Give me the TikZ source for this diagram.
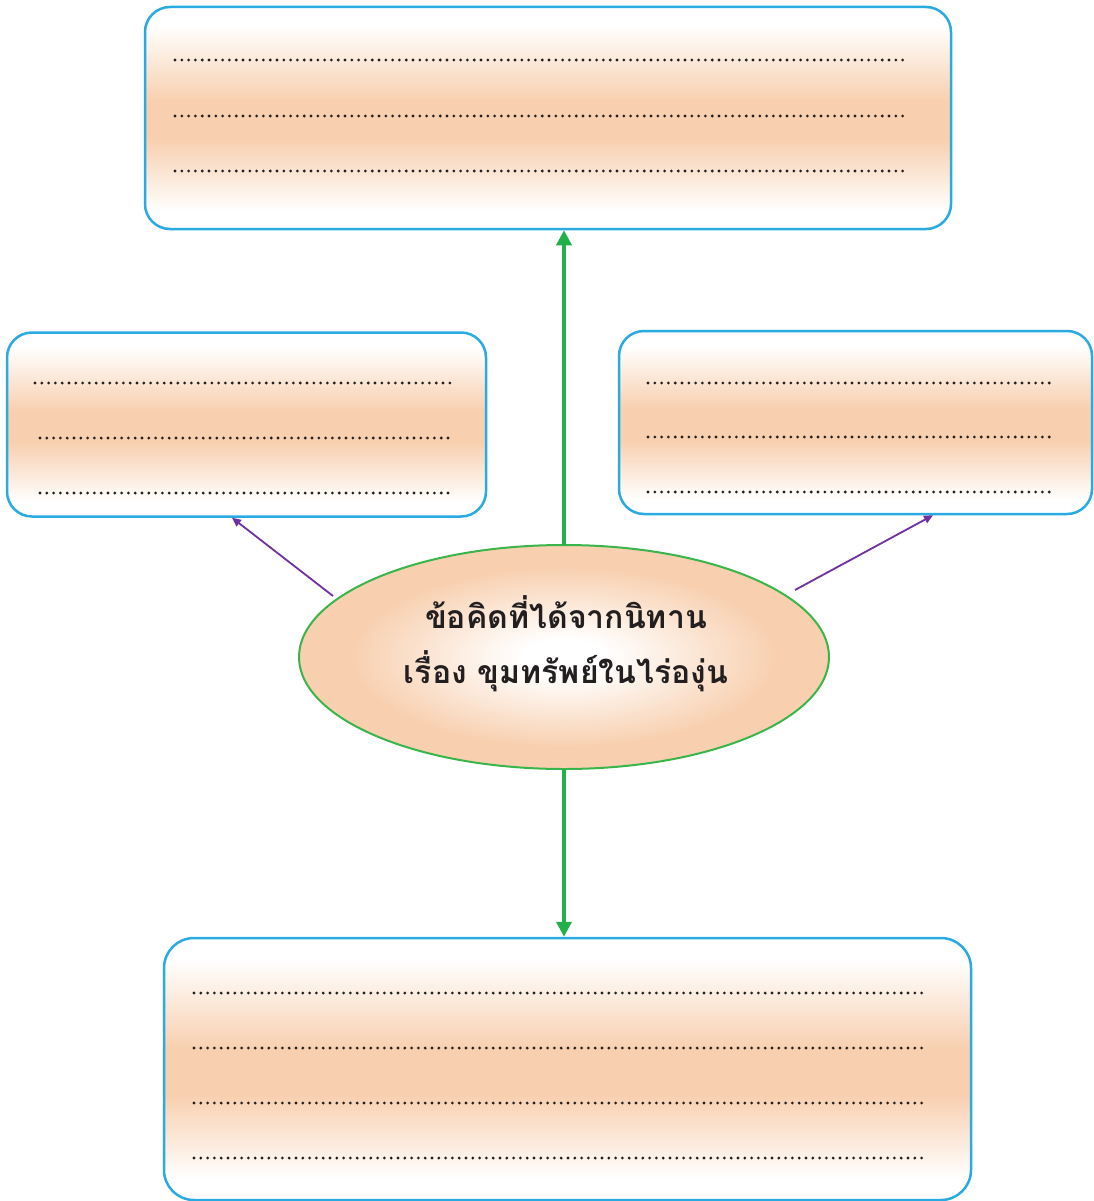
\documentclass[tikz,border=0pt]{standalone}
\usepackage{fontspec}
\newfontfamily\thaifont[Script=Thai]{Loma}
\usetikzlibrary{arrows.meta}
\definecolor{peach}{RGB}{248,208,176}
\definecolor{boxblue}{RGB}{41,171,226}
\definecolor{arrgreen}{RGB}{34,176,75}
\definecolor{ellgreen}{RGB}{57,181,74}
\definecolor{arrpurple}{RGB}{112,48,160}
\definecolor{dotgray}{RGB}{35,31,32}
\definecolor{txt}{RGB}{35,31,32}
\pgfdeclareverticalshading{boxshade}{100bp}{color(0bp)=(white); color(29bp)=(white); color(45bp)=(peach); color(54bp)=(peach); color(71bp)=(white); color(100bp)=(white)}
\pgfdeclareradialshading{ellshade}{\pgfpoint{0bp}{0bp}}{color(0bp)=(white); color(4bp)=(white); color(20bp)=(peach); color(25bp)=(peach); color(50bp)=(peach)}
\begin{document}
\begin{tikzpicture}[x=1pt,y=-1pt,
  box/.style={draw=boxblue, line width=2.5pt, rounded corners=25pt, shading=boxshade, rectangle, inner sep=0pt},
  dotline/.style={dotgray, line width=3.1pt, line cap=round, dash pattern=on 0pt off 6.8pt},
  greenarrow/.style={arrgreen, line width=3.6pt, -{Triangle[length=15pt,width=15pt]}},
  purplearrow/.style={arrpurple, line width=1.8pt, -{Triangle[length=9pt,width=8pt]}}]
\useasboundingbox (0,0) rectangle (1093,1201);
% boxes
\node[box, minimum width=806pt, minimum height=222pt] (top) at (548,118) {};
\node[box, minimum width=479pt, minimum height=184pt] (lbox) at (246.5,424.5) {};
\node[box, minimum width=473pt, minimum height=183pt] (rbox) at (855.5,422.5) {};
\node[box, minimum width=807pt, minimum height=262pt, rounded corners=30pt] (bot) at (567.5,1069) {};
% dotted lines
\draw[dotline] (175,60) -- (906,60);
\draw[dotline] (175,116) -- (906,116);
\draw[dotline] (175,171) -- (906,171);
\draw[dotline] (35,383) -- (455,383);
\draw[dotline] (40,438) -- (453,438);
\draw[dotline] (40,493) -- (453,493);
\draw[dotline] (648,383) -- (1052,383);
\draw[dotline] (648,437) -- (1052,437);
\draw[dotline] (648,492) -- (1052,492);
\draw[dotline] (194,993) -- (928,993);
\draw[dotline] (194,1048) -- (928,1048);
\draw[dotline] (194,1103) -- (928,1103);
\draw[dotline] (194,1158) -- (928,1158);
% ellipse
\path[draw=ellgreen, line width=2pt, shading=ellshade] (564,657) ellipse [x radius=265, y radius=112];
\node[inner sep=0pt, minimum width=530pt, minimum height=224pt] (ell) at (564,657) {};
\node[font=\thaifont\bfseries\fontsize{32}{55}\selectfont, text=txt, align=center] (lbl) at (566,644) {ข้อคิดที่ได้จากนิทาน\\เรื่อง ขุมทรัพย์ในไร่องุ่น};
% connectors
\coordinate (etop) at (564,545);
\coordinate (ebot) at (564,769);
\draw[greenarrow] (etop) -- (etop |- top.south);
\draw[greenarrow] (ebot) -- (ebot |- bot.north);
\coordinate (eleft) at (333,596);
\coordinate (eright) at (795,590);
\draw[purplearrow] (eleft) -- ([xshift=-14.5pt]lbox.south);
\draw[purplearrow] (eright) -- ([xshift=77.5pt]rbox.south);
\end{tikzpicture}
\end{document}
